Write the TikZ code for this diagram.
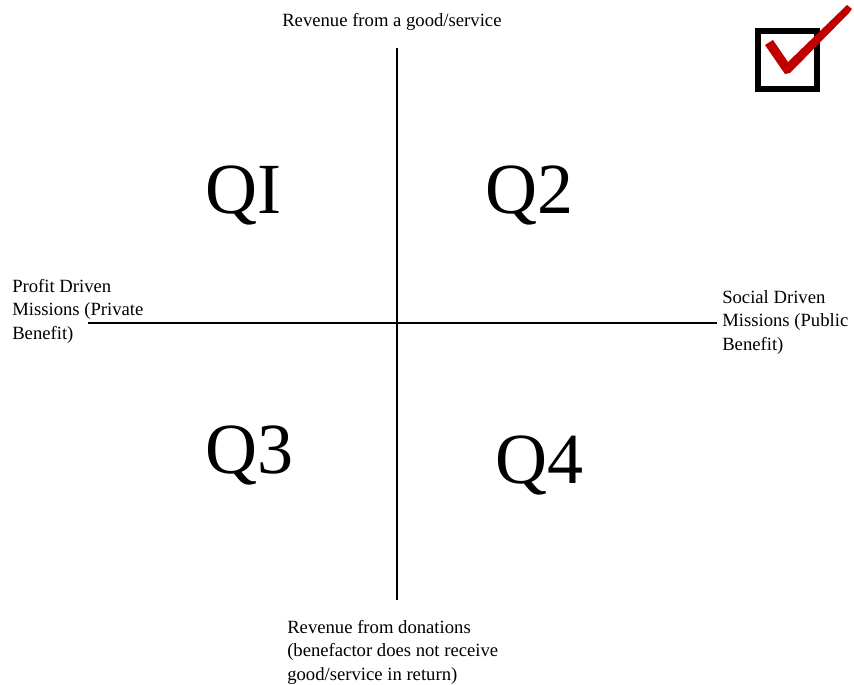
\documentclass[tikz,border=0pt]{standalone}
\usepackage{fontspec}
\setmainfont{Liberation Serif}
\usetikzlibrary{positioning}

\definecolor{tickred}{RGB}{192,0,0}

\begin{document}
\begin{tikzpicture}[x=0.75pt, y=-0.75pt,
	axis/.style={line width=1.2pt},
	lbl/.style={inner sep=0pt, align=left, font=\fontsize{14}{17.6}\selectfont},
	quad/.style={inner sep=0pt, anchor=base west, font=\fontsize{54}{60}\selectfont}]
	\useasboundingbox (0,0) rectangle (854,685);
	% axes
	\coordinate (top) at (397,48);
	\coordinate (bottom) at (397,600);
	\coordinate (left) at (88,323);
	\coordinate (right) at (717,323);
	\draw [axis] (top) -- (bottom);
	\draw [axis] (left) -- (right);
	% axis labels
	\node [lbl, anchor=base west] (revgood) at (282,27) {Revenue from a good/service};
	\node [lbl, anchor=north west] (profit) at (12,279) {Profit Driven\\Missions (Private\\Benefit)};
	\node [lbl, anchor=north west] (social) at (722,290) {Social Driven\\Missions (Public\\Benefit)};
	\node [lbl, anchor=north west] (donate) at (287,620) {Revenue from donations\\(benefactor does not receive\\good/service in return)};
	% quadrants
	\node [quad] (q1) at (205,213) {QI};
	\node [quad] (q2) at (485,213) {Q2};
	\node [quad] (q3) at (205,473) {Q3};
	\node [quad] (q4) at (495,483) {Q4};
	% check box
	\draw [line width=4.6pt] (758,31) rectangle (817,89);
	\fill [tickred] (765,45) -- (773,40) -- (788,62) -- (847,5) -- (852,9) -- (849,13) -- (790,73) -- (785,74) -- cycle;

\end{tikzpicture}
\end{document}
